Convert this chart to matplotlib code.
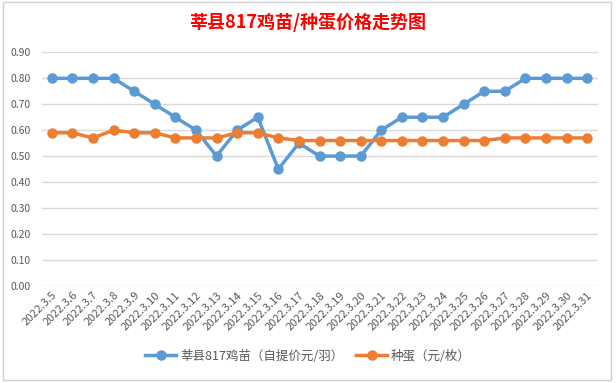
import matplotlib.pyplot as plt
from matplotlib.patches import Rectangle

plt.rcParams['font.family'] = ['Noto Sans CJK SC', 'DejaVu Sans']

dates = ['2022.3.%d' % d for d in range(5, 32)]
chick = [0.80, 0.80, 0.80, 0.80, 0.75, 0.70, 0.65, 0.60, 0.50, 0.60, 0.65, 0.45, 0.55, 0.50,
         0.50, 0.50, 0.60, 0.65, 0.65, 0.65, 0.70, 0.75, 0.75, 0.80, 0.80, 0.80, 0.80]
egg = [0.59, 0.59, 0.57, 0.60, 0.59, 0.59, 0.57, 0.57, 0.57, 0.59, 0.59, 0.57, 0.56, 0.56,
       0.56, 0.56, 0.56, 0.56, 0.56, 0.56, 0.56, 0.56, 0.57, 0.57, 0.57, 0.57, 0.57]
yticks = [0.0, 0.1, 0.2, 0.3, 0.4, 0.5, 0.6, 0.7, 0.8, 0.9]

fig = plt.figure(figsize=(6.16, 3.83), dpi=100)
fig.patches.append(Rectangle((3 / 616, 1 - 380 / 383), 608 / 616, 378 / 383,
                             transform=fig.transFigure, fill=False,
                             edgecolor='#D0D0D8', linewidth=1))
ax = fig.add_axes([41.5 / 616, 1 - 285.7 / 383, 556 / 616, 233.3 / 383])

x = range(len(dates))
ax.plot(x, chick, color='#5B9BD5', linewidth=2.5, marker='o', markersize=6.5,
        label='莘县817鸡苗（自提价元/羽）')
ax.plot(x, egg, color='#ED7D31', linewidth=2.5, marker='o', markersize=6.5,
        label='种蛋（元/枚）')

ax.set_xlim(-0.5, len(dates) - 0.5)
ax.set_ylim(0, 0.9)
ax.set_yticks(yticks)
ax.set_yticklabels(['%.2f' % v for v in yticks])
ax.set_xticks(list(x))
ax.set_xticklabels(dates, rotation=45, ha='right', rotation_mode='anchor', fontsize=8)
ax.grid(axis='y', color='#D9D9D9', linewidth=1)
ax.set_axisbelow(True)
for s in ax.spines.values():
    s.set_visible(False)
ax.tick_params(axis='both', length=0, colors='#595959', labelsize=7.5)
ax.tick_params(axis='y', pad=8)
ax.tick_params(axis='x', pad=3, labelsize=8)

fig.text(0.5, 1 - 22 / 383, '莘县817鸡苗/种蛋价格走势图', ha='center', va='center',
         color='red', fontsize=13, fontweight='bold')
fig.legend(loc='center', bbox_to_anchor=(0.5, 1 - 356 / 383), ncol=2, frameon=False,
           fontsize=9, labelcolor='#595959', handlelength=2.5, columnspacing=1.0,
           handletextpad=0.3)

fig.savefig('out.png', dpi=100)
